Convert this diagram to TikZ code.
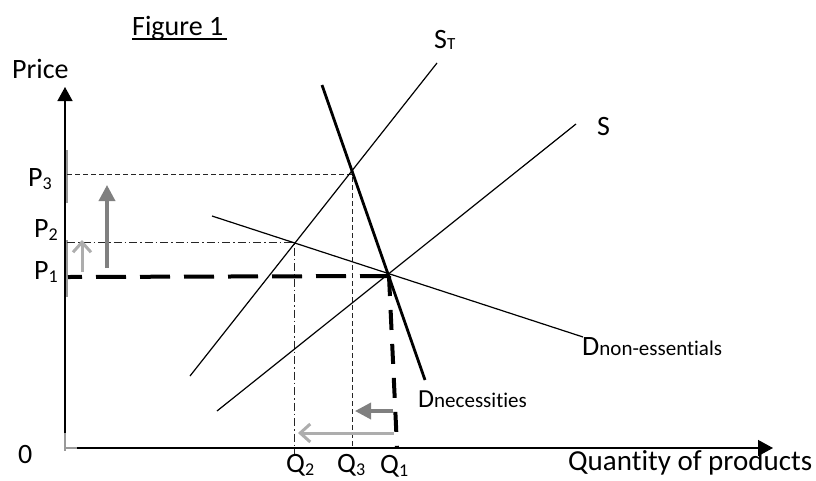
\documentclass[tikz,border=0pt]{standalone}
\usepackage{fontspec}
\setmainfont[Ligatures=NoCommon]{Carlito}
\usetikzlibrary{arrows.meta}
\newcommand{\fs}[1]{\fontsize{#1}{#1}\selectfont}
\newcommand{\lsub}[1]{\raisebox{-3pt}{\fs{18}#1}}
\begin{document}
\begin{tikzpicture}[x=1pt,y=-1pt,
  lbl/.style={inner sep=0pt, anchor=base west, font=\fs{28}},
  axis/.style={line width=1.3pt, black},
  curve/.style={line width=1.2pt, black},
  thickcurve/.style={line width=2.8pt, black},
  bigdash/.style={line width=4pt, black, dash pattern=on 30pt off 14pt, dash phase=16pt},
  smalldash/.style={line width=1pt, black!85, dash pattern=on 5pt off 3pt},
  dashdot/.style={line width=1pt, black!85, dash pattern=on 8pt off 3pt on 1.5pt off 3pt},
  darrow/.style={line width=3.5pt, black!50, -{Triangle[width=16pt,length=16pt]}},
  larrow/.style={line width=3pt, black!32, -{Straight Barb[width=18pt,length=10pt,line width=3pt]}},
  artefact/.style={line width=1.2pt, black!40}]
\useasboundingbox (0,0) rectangle (816,480);
\clip (0,0) rectangle (816,480);

% coordinates
\coordinate (O) at (65,448);
\coordinate (ytop) at (65,87);
\coordinate (ybot) at (65,433);
\coordinate (xstart) at (77,448);
\coordinate (xend) at (773,448);
\coordinate (E1) at (389,276);
\coordinate (E2) at (294,242);
\coordinate (E3) at (352,174);
\coordinate (stA) at (190,376);
\coordinate (stB) at (437,63);
\coordinate (sA) at (217,411);
\coordinate (sB) at (576,124);
\coordinate (dnA) at (322,85);
\coordinate (dnB) at (425,380);
\coordinate (doA) at (212,216);
\coordinate (doB) at (583,337);
\coordinate (p1L) at (68,277);
\coordinate (p2L) at (67,242);
\coordinate (p3L) at (67,174);
\coordinate (q1B) at (397,447);
\coordinate (q2B) at (294,455);
\coordinate (q3B) at (352,448);

% axis artefacts (grey)
\draw[artefact] (67,150) -- (67,203);
\draw[artefact] (67,240) -- (67,297);
\draw[artefact] (65,433) -- (65,451);
\draw[artefact] (65,448) -- (xstart);

% axes
\draw[axis, -{Triangle[width=15pt,length=14pt]}] (ybot) -- (ytop);
\draw[axis, -{Triangle[width=16pt,length=15pt]}] (xstart) -- (xend);

% guide lines
\draw[smalldash] (p3L) -- (E3) -- (q3B);
\draw[dashdot] (p2L) -- (E2) -- (q2B);
\draw[bigdash] (p1L) -- (E1);
\draw[line width=4pt, black, dash pattern=on 20pt off 14pt] (E1) -- (q1B);

% curves
\draw[curve] (stA) -- (stB);
\draw[curve] (sA) -- (sB);
\draw[curve] (doA) -- (doB);
\draw[thickcurve] (dnA) -- (dnB);

% shift arrows
\draw[larrow] (82,272) -- (82,240);
\draw[darrow] (107,268) -- (107,185);
\draw[darrow] (393,411) -- (355,411);
\draw[larrow] (394,433) -- (298,433);

% labels
\node[lbl] (fig) at (132,35) {Figure 1};
\draw[line width=1.3pt] (fig.base west) ++(0,4) -- ++(95,0);
\node[lbl] (price) at (12,78) {Price};
\node[lbl] (p3) at (28,186) {P\lsub{3}};
\node[lbl] (p2) at (34,237) {P\lsub{2}};
\node[lbl] (p1) at (34,279) {P\lsub{1}};
\node[lbl] (zero) at (18,463) {0};
\node[lbl] (stl) at (434,48) {S{\fs{17}\raisebox{-1pt}{T}}};
\node[lbl] (sl) at (597,135) {S};
\node[lbl] (dnon) at (582,355) {D{\fs{21}non-essentials}};
\node[lbl, font=\fs{26}] (dnec) at (418,407) {D{\fs{21}necessities}};
\node[lbl] (q2) at (286,472) {Q\lsub{2}};
\node[lbl] (q3) at (337,472) {Q\lsub{3}};
\node[lbl] (q1) at (380,473) {Q\lsub{1}};
\node[lbl, font=\fs{29}] (qty) at (568,470) {Quantity of products};
\end{tikzpicture}
\end{document}
